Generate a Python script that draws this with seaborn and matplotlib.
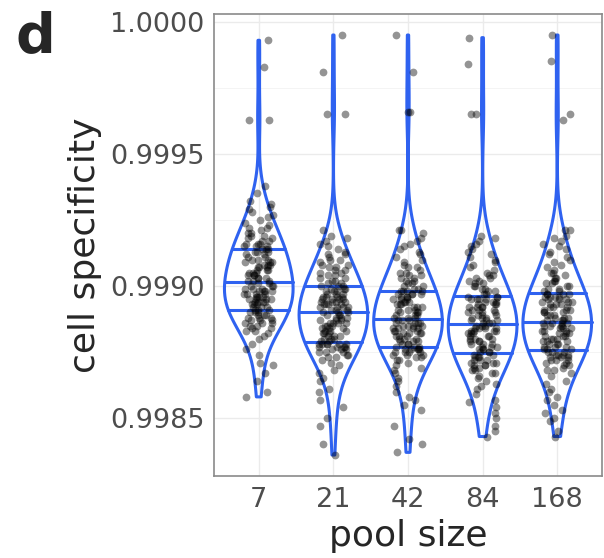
import numpy as np
import pandas as pd
import matplotlib
matplotlib.use("Agg")
import matplotlib.pyplot as plt
from matplotlib.ticker import FormatStrFormatter
import seaborn as sns

# x categories
pool_sizes = ["7", "21", "42", "84", "168"]

# cell specificity per pool size.
# stored as offsets in units of 1e-5 above 0.998 (101 -> 0.99901)
spec_7 = [58, 60, 64, 67, 70, 71, 74, 76, 78, 80,
          81, 82, 83, 83, 84, 84, 85, 85, 86, 86,
          86, 87, 87, 87, 88, 88, 88, 89, 89, 89,
          90, 90, 90, 91, 91,
          91, 92, 92, 92, 93, 93, 93, 94, 94, 94,
          94, 95, 95, 95, 95, 96, 96, 96, 96, 97,
          97, 97, 97, 98, 98, 98, 98, 99, 99, 99,
          100, 100, 100, 101, 101,
          102, 102, 102, 103, 103, 103, 104, 104, 104, 105,
          105, 105, 106, 106, 106, 107, 107, 107, 108, 108,
          108, 109, 109, 109, 110, 110, 110, 111, 111, 112,
          112, 113, 113, 113, 114,
          114, 114, 115, 115, 115, 116, 116, 116, 117, 117,
          118, 118, 119, 119, 120, 120, 121, 122, 122, 123,
          124, 125, 126, 127, 128, 129, 130, 131, 132, 135,
          138, 163, 163, 183, 193]

spec_21 = [36, 40, 47, 50, 54, 57, 60, 61, 64, 65,
           67, 68, 70, 71, 72, 73, 73, 74, 74, 75,
           75, 75, 76, 76, 76, 77, 77, 77, 77, 78,
           78, 78, 78, 78, 78,
           79, 79, 80, 80, 80, 81, 81, 81, 82, 82,
           82, 83, 83, 83, 84, 84, 84, 85, 85, 85,
           86, 86, 86, 86, 87, 87, 87, 88, 88, 88,
           89, 89, 89, 90, 90,
           90, 91, 91, 91, 92, 92, 92, 92, 93, 93,
           93, 93, 94, 94, 94, 94, 95, 95, 95, 95,
           96, 96, 96, 96, 97, 97, 97, 98, 98, 98,
           99, 99, 99, 100, 100,
           100, 101, 101, 102, 102, 103, 103, 104, 104, 105,
           105, 106, 106, 107, 107, 108, 108, 109, 110, 110,
           111, 112, 112, 113, 114, 115, 116, 117, 118, 119,
           121, 165, 165, 181, 195]

spec_42 = [37, 40, 42, 47, 53, 55, 57, 58, 60, 62,
           64, 65, 67, 68, 69, 70, 71, 72, 72, 73,
           73, 74, 74, 74, 75, 75, 75, 75, 76, 76,
           76, 76, 76, 77, 77,
           77, 78, 78, 78, 79, 79, 79, 80, 80, 80,
           81, 81, 81, 82, 82, 82, 82, 83, 83, 83,
           84, 84, 84, 84, 85, 85, 85, 85, 86, 86,
           86, 86, 87, 87, 87,
           88, 88, 88, 89, 89, 89, 90, 90, 90, 91,
           91, 91, 92, 92, 92, 93, 93, 93, 94, 94,
           94, 95, 95, 95, 96, 96, 96, 97, 97, 97,
           97, 98, 98, 98, 98,
           99, 99, 100, 100, 101, 101, 102, 102, 103, 103,
           104, 104, 105, 105, 106, 107, 107, 108, 109, 110,
           111, 112, 113, 114, 115, 116, 117, 118, 120, 121,
           121, 166, 166, 181, 195]

spec_84 = [43, 45, 47, 50, 52, 54, 56, 57, 59, 61,
           62, 63, 64, 65, 66, 67, 67, 68, 68, 69,
           69, 70, 70, 70, 71, 71, 71, 72, 72, 72,
           73, 73, 73, 74, 74,
           75, 75, 75, 76, 76, 76, 77, 77, 77, 78,
           78, 78, 79, 79, 79, 80, 80, 80, 81, 81,
           81, 82, 82, 82, 83, 83, 83, 83, 84, 84,
           84, 84, 85, 85, 85,
           86, 86, 86, 87, 87, 87, 88, 88, 88, 89,
           89, 89, 90, 90, 90, 91, 91, 91, 92, 92,
           92, 92, 93, 93, 93, 94, 94, 94, 95, 95,
           95, 95, 96, 96, 96,
           97, 97, 98, 98, 99, 99, 100, 100, 101, 101,
           102, 102, 103, 103, 104, 104, 105, 106, 107, 108,
           109, 110, 111, 112, 113, 114, 115, 116, 117, 118,
           119, 165, 165, 184, 194]

spec_168 = [43, 45, 49, 50, 52, 53, 55, 57, 58, 60,
            61, 63, 64, 66, 67, 68, 68, 69, 70, 70,
            71, 71, 72, 72, 72, 73, 73, 73, 74, 74,
            74, 74, 75, 75, 75,
            76, 76, 76, 77, 77, 77, 78, 78, 78, 79,
            79, 79, 80, 80, 80, 81, 81, 81, 82, 82,
            82, 83, 83, 83, 84, 84, 84, 85, 85, 85,
            85, 86, 86, 86, 86,
            87, 87, 87, 88, 88, 88, 89, 89, 89, 90,
            90, 90, 91, 91, 91, 92, 92, 92, 93, 93,
            93, 94, 94, 94, 95, 95, 95, 96, 96, 96,
            96, 97, 97, 97, 97,
            98, 98, 99, 99, 100, 100, 101, 101, 102, 102,
            103, 103, 104, 105, 105, 106, 107, 108, 109, 110,
            111, 112, 113, 114, 115, 116, 117, 118, 119, 121,
            121, 163, 165, 185, 195]

groups = [spec_7, spec_21, spec_42, spec_84, spec_168]
df = pd.DataFrame({
    "pool": np.repeat(pool_sizes, [len(g) for g in groups]),
    "spec": 0.998 + np.concatenate(groups) / 1e5,
})

blue = "#2F62F0"

sns.set_style("white")
plt.rcParams["font.family"] = "DejaVu Sans"

fig, ax = plt.subplots(figsize=(6.04, 5.58), dpi=100)
fig.subplots_adjust(left=214 / 604, right=602 / 604, top=1 - 14 / 558, bottom=1 - 476 / 558)

sns.violinplot(data=df, x="pool", y="spec", order=pool_sizes, fill=False,
               color=blue, linewidth=2.2, width=0.92, density_norm="width",
               cut=0, bw_method="scott", bw_adjust=1.15, inner="quart",
               inner_kws=dict(linewidth=2.2, color=blue), ax=ax)
# solid quartile lines like ggplot's draw_quantiles
for ln in ax.lines:
    ln.set_linestyle("-")

np.random.seed(7)
sns.stripplot(data=df, x="pool", y="spec", order=pool_sizes, color="black",
              alpha=0.42, size=5.6, jitter=0.2, linewidth=0, zorder=3, ax=ax)

# limits like ggplot's 5% expansion
ax.set_xlim(-0.6, 4.6)
lo, hi = df["spec"].min(), df["spec"].max()
pad = 0.05 * (hi - lo)
ax.set_ylim(lo - pad, hi + pad)
ax.set_yticks([0.9985, 0.9990, 0.9995, 1.0000])
ax.set_yticks([0.99875, 0.99925, 0.99975], minor=True)
ax.yaxis.set_major_formatter(FormatStrFormatter("%.4f"))

ax.grid(True, which="major", color="#EBEBEB", lw=1)
ax.grid(True, which="minor", axis="y", color="#F4F4F4", lw=0.7)
ax.set_axisbelow(True)

ax.tick_params(which="major", length=5, width=1, color="#555555",
               labelsize=19.5, labelcolor="#4D4D4D")
ax.tick_params(axis="y", pad=2)
ax.tick_params(axis="x", pad=3)
ax.tick_params(which="minor", length=0)
for s in ax.spines.values():
    s.set_visible(True)
    s.set_color("#8a8a8a")
    s.set_linewidth(1.2)

ax.set_xlabel("pool size", fontsize=26)
ax.set_ylabel("cell specificity", fontsize=26)
ax.yaxis.set_label_coords(-0.289, 0.5)
ax.xaxis.set_label_coords(0.5, -0.093)

fig.text(0.025, 0.982, "d", fontsize=40, fontweight="bold", va="top", ha="left")

fig.savefig("out.png", dpi=100)
